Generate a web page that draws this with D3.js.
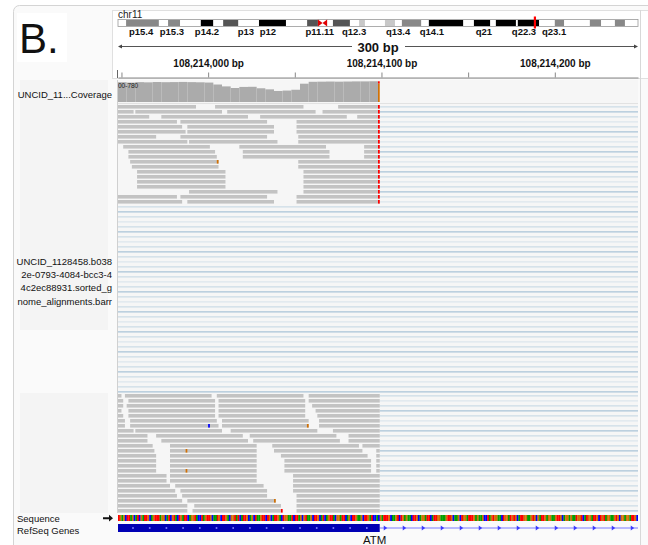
<!DOCTYPE html>
<html>
<head>
<meta charset="utf-8">
<script src="https://cdn.jsdelivr.net/npm/d3@7"></script>
<style>
  body { margin: 0; background: #fff; }
  svg { display: block; font-family: "Liberation Sans", Arial, sans-serif; }
</style>
</head>
<body>
<div id="chart"></div>
<script>
// locus chr11:108,213,948-108,214,248 (ATM)
const chromName = 'chr11';
const chromLength = 135.0; // Mb
const regionStart = 108213948;
const regionEnd = 108214248;
const viewMarkerMb = 108.21;

// ideogram bands [startMb, endMb, stain]
const bands = [
  [2.1, 10.6, 'gpos50'], [13.0, 16.1, 'gpos50'], [21.5, 24.7, 'gpos100'],
  [27.3, 31.2, 'gpos75'], [36.6, 43.6, 'gpos100'], [49.1, 51.9, 'gpos75'],
  [51.9, 54.3, 'acen'], [55.8, 60.2, 'gpos75'], [62.6, 64.1, 'gpos25'],
  [69.3, 71.9, 'gpos25'], [73.7, 78.7, 'gpos50'], [80.7, 89.6, 'gpos100'],
  [92.4, 96.6, 'gpos100'], [98.1, 103.3, 'gpos100'], [103.8, 109.3, 'gpos100'],
  [113.4, 115.8, 'gpos50'], [122.5, 125.4, 'gpos50'], [129.0, 131.6, 'gpos50']
];
const bandLabels = ['p15.4', 'p15.3', 'p14.2', 'p13', 'p12', 'p11.11', 'q12.3', 'q13.4', 'q14.1', 'q21', 'q22.3', 'q23.1'];
const bandLabelMb = [6.0, 14.0, 23.1, 33.2, 38.9, 52.4, 61.3, 72.7, 81.5, 95.0, 105.4, 113.2];

// coverage, 5 bp bins from regionStart
const coverageMax = 780;
const coverageBins = [735, 720, 738, 730, 742, 736, 740, 745, 738, 732, 722, 650, 580, 520, 560,
                      565, 510, 470, 410, 425, 455, 680, 750, 755, 760, 755, 760, 765, 765, 770];
const variantOffset = 150;
const variantCounts = [['T', 90], ['G', 680]];

// reads per row, [start, end] in bp offsets from regionStart
const topReads = [
  [[-20, 45], [56, 107], [127, 151]],
  [[-20, 9], [10, 60], [63, 114], [118, 151]],
  [[-20, 18], [25, 75], [82, 132], [138, 151]],
  [[-20, 34], [36, 86], [103, 151]],
  [[-20, 37], [40, 90], [103, 151]],
  [[-20, 39], [40, 90], [103, 151]],
  [[-20, 22], [36, 86], [104, 151]],
  [[-20, 40], [41, 92], [104, 151]],
  [[3, 53], [70, 120], [142, 151]],
  [[6, 56], [72, 122], [142, 151]],
  [[6, 57], [72, 122], [142, 151]],
  [[7, 58], [104, 151]],
  [[8, 58], [104, 151]],
  [[11, 62], [107, 151]],
  [[11, 62], [107, 151]],
  [[11, 62], [107, 151]],
  [[11, 62], [107, 151]],
  [[41, 92], [107, 151]],
  [[-20, 34], [36, 86], [103, 151]],
  [[-20, 37], [40, 90], [103, 151]]
];
const bottomReads = [
  [[-20, 2], [4, 54], [57, 107], [110, 151]],
  [[-20, 3], [6, 56], [58, 108], [110, 151]],
  [[-20, 3], [5, 56], [58, 108], [112, 151]],
  [[-20, 2], [6, 56], [58, 108], [114, 151]],
  [[-20, 3], [6, 56], [58, 108], [115, 151]],
  [[-20, 4], [7, 57], [60, 110], [116, 151]],
  [[-20, 4], [7, 58], [60, 110], [116, 151]],
  [[-20, 9], [10, 60], [65, 115], [124, 151]],
  [[-20, 17], [22, 72], [76, 126], [133, 151]],
  [[-20, 17], [25, 75], [78, 128], [133, 151]],
  [[-20, 20], [30, 80], [89, 139], [141, 151]],
  [[-20, 21], [30, 80], [90, 141], [149, 151]],
  [[-20, 22], [30, 80], [94, 144], [149, 151]],
  [[-20, 22], [30, 80], [96, 146], [149, 151]],
  [[-20, 22], [30, 80], [96, 146], [149, 151]],
  [[-20, 22], [30, 80], [96, 146], [149, 151]],
  [[-20, 28], [30, 80], [101, 151]],
  [[-20, 28], [30, 80], [101, 151]],
  [[-20, 30], [33, 84], [101, 151]],
  [[-20, 33], [36, 86], [101, 151]],
  [[-20, 34], [37, 86], [103, 151]],
  [[-20, 37], [40, 91], [103, 151]],
  [[-20, 40], [44, 94], [103, 151]],
  [[-20, 40], [43, 94], [103, 151]]
];
const middleRowCount = 38;
// mismatches [row, offset, base]
const topMismatches = [[11, 57, 'G']];
const bottomMismatches = [[6, 52, 'C'], [6, 109, 'G'], [11, 39, 'G'], [15, 39, 'G'], [21, 90, 'G'], [23, 94, 'T']];

// reference sequence (300 bp)
const sequence =
  'TGAGCTTAGCATCGATTGCAGTTTAGGCATCGTACTGATTCAGGTACCTA' +
  'GTTGCAATGCTTGACGGTATCATTGCAGCTAAGTTCTGCATTGACTGGAA' +
  'TCTTAGCGTAAGCTTGCATCAGTTACGGATTCAGCTTGAAGCTTGATCCA' +
  'CGATTTGCAAGTCTGAGAACTTGCAGGATTCATTGGAAAGTTGCAAGCTG' +
  'GATTTGAGAAGCCTAGTGGAACTGGATGTGCATTGGAAGTGCGATTGAGG' +
  'AAGTTGCAGGAGAATGGTCATGGATTGCTGTAGGAAGTGCGGAGGATTGC';

// RefSeq gene
const geneName = 'ATM';
const exonStart = -200;
const exonEnd = 151;
const txEnd = 600;

const baseColor = { A: '#00a000', C: '#0000ff', G: '#d17105', T: '#ff0000' };
const stainColor = { gpos25: '#c8c8c8', gpos50: '#888', gpos75: '#555', gpos100: '#000' };

const W = 648, H = 545;
const x0 = 118, x1 = 638;

const svg = d3.select('#chart').append('svg')
  .attr('width', W).attr('height', H);

svg.append('rect').attr('x', 13.5).attr('y', 5.5).attr('width', 700).attr('height', 600)
  .attr('rx', 6).attr('fill', '#fafafa').attr('stroke', '#d4d4d4');

// "B." panel label
svg.append('rect').attr('x', 17).attr('y', 13).attr('width', 50).attr('height', 49).attr('fill', '#fff');
svg.append('text').attr('x', 19).attr('y', 53).attr('font-size', 42).attr('fill', '#111').text('B.');

// header panel
svg.append('rect').attr('x', 112.5).attr('y', 10.5).attr('width', 560).attr('height', 68)
  .attr('fill', '#fff').attr('stroke', '#e0e0e0');

// ideogram
const xc = d3.scaleLinear().domain([0, chromLength]).range([x0, x1]);
svg.append('text').attr('x', x0).attr('y', 18).attr('font-size', 10).attr('fill', '#222').text(chromName);
const ideoY = 19.5, ideoH = 7;
svg.append('rect').attr('x', x0).attr('y', ideoY).attr('width', x1 - x0).attr('height', ideoH)
  .attr('fill', '#fff').attr('stroke', '#999').attr('stroke-width', 0.8);
svg.append('g').selectAll('rect')
  .data(bands.filter(b => b[2] !== 'acen'))
  .join('rect')
  .attr('x', d => xc(d[0])).attr('y', ideoY + 0.5)
  .attr('width', d => xc(d[1]) - xc(d[0])).attr('height', ideoH - 1)
  .attr('fill', d => stainColor[d[2]]);
bands.filter(b => b[2] === 'acen').forEach(b => {
  const a = xc(b[0]), c = xc(b[1]), m = (a + c) / 2;
  svg.append('path')
    .attr('d', `M${a},${ideoY}L${m},${ideoY + ideoH / 2}L${a},${ideoY + ideoH}Z M${c},${ideoY}L${m},${ideoY + ideoH / 2}L${c},${ideoY + ideoH}Z`)
    .attr('fill', '#e00000');
});
svg.append('rect').attr('x', xc(viewMarkerMb) - 1).attr('y', 16.5).attr('width', 2.2).attr('height', 12)
  .attr('fill', '#ff0000');
svg.append('g').selectAll('text')
  .data(bandLabels)
  .join('text')
  .attr('x', (d, i) => xc(bandLabelMb[i])).attr('y', 35)
  .attr('text-anchor', 'middle').attr('font-size', 9.5).attr('font-weight', 'bold').attr('fill', '#111')
  .text(d => d);

// ruler
const xg = d3.scaleLinear().domain([regionStart, regionEnd]).range([x0, x1]);
const spanLabel = d3.format(',')(regionEnd - regionStart) + ' bp';
const gr = svg.append('g');
gr.append('line').attr('x1', x0 + 2).attr('x2', 352).attr('y1', 46.5).attr('y2', 46.5).attr('stroke', '#555');
gr.append('line').attr('x1', 405).attr('x2', x1 - 2).attr('y1', 46.5).attr('y2', 46.5).attr('stroke', '#555');
gr.append('path').attr('d', `M${x0},46.5l4,-2v4z M${x1},46.5l-4,-2v4z`).attr('fill', '#444');
gr.append('text').attr('x', (x0 + x1) / 2).attr('y', 51.5).attr('text-anchor', 'middle')
  .attr('font-size', 13).attr('font-weight', 'bold').attr('fill', '#111').text(spanLabel);

const tickVals = d3.range(Math.ceil(regionStart / 50) * 50, regionEnd, 50);
const axis = d3.axisTop(xg)
  .tickValues(tickVals)
  .tickSize(5).tickSizeOuter(0)
  .tickFormat(d => d % 100 === 0 ? d3.format(',')(d) + ' bp' : '');
const ga = svg.append('g').attr('transform', 'translate(0,77.5)').call(axis);
ga.select('.domain').attr('stroke', '#888');
ga.selectAll('.tick line').attr('stroke', '#888');
ga.selectAll('.tick text').attr('font-size', 10).attr('font-weight', 'bold').attr('fill', '#111')
  .attr('font-family', '"Liberation Sans", Arial, sans-serif').attr('y', -11);
svg.append('line').attr('x1', x0 - 0.5).attr('x2', x0 - 0.5).attr('y1', 70).attr('y2', 78).attr('stroke', '#666');

// name panels
svg.append('rect').attr('x', 20).attr('y', 80).attr('width', 88).attr('height', 250).attr('fill', '#f4f4f4');
svg.append('rect').attr('x', 20).attr('y', 393).attr('width', 88).attr('height', 120).attr('fill', '#f4f4f4');

// data panel
svg.append('rect').attr('x', x0).attr('y', 80).attr('width', x1 - x0).attr('height', 433).attr('fill', '#f6f6f6');
svg.append('defs').append('clipPath').attr('id', 'clip')
  .append('rect').attr('x', x0).attr('y', 0).attr('width', x1 - x0).attr('height', H);
const data = svg.append('g').attr('clip-path', 'url(#clip)');
const x = d3.scaleLinear().domain([0, regionEnd - regionStart]).range([x0, x1]);

// coverage
const yc = d3.scaleLinear().domain([0, coverageMax]).range([102, 81]);
data.append('g').selectAll('rect')
  .data(coverageBins)
  .join('rect')
  .attr('x', (d, i) => x(i * 5))
  .attr('width', (d, i) => x(Math.min(i * 5 + 5, variantOffset)) - x(i * 5))
  .attr('y', d => yc(d))
  .attr('height', d => yc(0) - yc(d))
  .attr('fill', '#ababab');
let acc = 0;
const stack = variantCounts.map(([b, n]) => { const s = { b, y0: acc, y1: acc + n }; acc += n; return s; });
data.append('g').selectAll('rect')
  .data(stack)
  .join('rect')
  .attr('x', x(variantOffset)).attr('width', x(variantOffset + 1) - x(variantOffset))
  .attr('y', d => yc(acc - d.y0)).attr('height', d => yc(0) - yc(d.y1 - d.y0))
  .attr('fill', d => baseColor[d.b]);
svg.append('text').attr('x', x0).attr('y', 87.5).attr('font-size', 6.5).attr('fill', '#222').text('00-780');
svg.append('line').attr('x1', x0).attr('x2', x1).attr('y1', 103.5).attr('y2', 103.5).attr('stroke', '#e2e2e2');

// alignment rows: spliced-gap lines, reads, mismatches
const rowH = 5, readH = 3.6;
const blocks = [
  { reads: topReads, top: 105, mism: topMismatches, variant: true, offset: 0 },
  { reads: d3.range(middleRowCount).map(() => []), top: 205, mism: [], variant: false, offset: 20 },
  { reads: bottomReads, top: 394, mism: bottomMismatches, variant: false, offset: 58 }
];
const lineColor = i => i % 4 === 1 ? '#a9c3d7' : (i % 2 === 0 ? '#cbdbe6' : '#dce6ed');
blocks.forEach(bk => {
  const g = data.append('g');
  const yRow = i => bk.top + i * rowH;
  g.selectAll('line')
    .data(bk.reads)
    .join('line')
    .attr('x1', d => d.length ? x(d3.max(d, r => r[1])) : x0)
    .attr('x2', x1)
    .attr('y1', (d, i) => yRow(i) + readH / 2).attr('y2', (d, i) => yRow(i) + readH / 2)
    .attr('stroke', (d, i) => lineColor(i + bk.offset)).attr('stroke-width', 1.3);
  bk.reads.forEach((row, i) => {
    g.append('g').selectAll('rect')
      .data(row)
      .join('rect')
      .attr('x', r => x(r[0])).attr('width', r => x(r[1]) - x(r[0]))
      .attr('y', yRow(i)).attr('height', readH)
      .attr('fill', '#c3c3c3');
    if (bk.variant) {
      row.filter(r => r[0] <= variantOffset && r[1] > variantOffset).forEach(() => {
        g.append('rect').attr('x', x(variantOffset)).attr('width', x(variantOffset + 1) - x(variantOffset))
          .attr('y', yRow(i)).attr('height', readH).attr('fill', baseColor.T);
      });
    }
  });
  g.append('g').selectAll('rect')
    .data(bk.mism)
    .join('rect')
    .attr('x', d => x(d[1])).attr('width', d => x(d[1] + 1) - x(d[1]))
    .attr('y', d => yRow(d[0])).attr('height', readH)
    .attr('fill', d => baseColor[d[2]]);
});
svg.append('line').attr('x1', x0 - 0.5).attr('x2', x0 - 0.5).attr('y1', 80).attr('y2', 513).attr('stroke', '#d0d0d0');

// sequence track
data.append('g').selectAll('rect')
  .data(sequence.split(''))
  .join('rect')
  .attr('x', (d, i) => x(i)).attr('width', (d, i) => x(i + 1) - x(i) + 0.2)
  .attr('y', 515).attr('height', 6)
  .attr('fill', d => baseColor[d]);

// gene track
const gy = 528;
data.append('line').attr('x1', x(exonEnd)).attr('x2', x(txEnd)).attr('y1', gy).attr('y2', gy)
  .attr('stroke', '#7a7aff').attr('stroke-width', 1);
data.append('g').selectAll('path')
  .data(d3.range(x(exonEnd) + 6, x1, 19))
  .join('path')
  .attr('d', px => `M${px - 2},${gy - 2.5}L${px + 1.5},${gy}L${px - 2},${gy + 2.5}Z`)
  .attr('fill', '#3b3bff');
data.append('rect').attr('x', x(exonStart)).attr('width', x(exonEnd) - x(exonStart))
  .attr('y', gy - 4).attr('height', 8).attr('fill', '#0000b4');
data.append('g').selectAll('rect')
  .data(d3.range(133, x(exonEnd) - 4, 16.7))
  .join('rect')
  .attr('x', px => px - 0.8).attr('y', gy - 0.8).attr('width', 1.6).attr('height', 1.6)
  .attr('fill', '#8a8aff');
svg.append('text').attr('x', x(exonEnd) - 5).attr('y', 544).attr('text-anchor', 'middle')
  .attr('font-size', 11.5).attr('fill', '#111').text(geneName);

// right border
svg.append('line').attr('x1', 640.5).attr('x2', 640.5).attr('y1', 10).attr('y2', H).attr('stroke', '#d8d8d8');

// track names
const names = svg.append('g').attr('font-size', 9.5).attr('fill', '#111');
names.append('text').attr('x', 112).attr('y', 98).attr('text-anchor', 'end').text('UNCID_11...Coverage');
const bamName = ['UNCID_1128458.b038', '2e-0793-4084-bcc3-4', '4c2ec88931.sorted_g', 'nome_alignments.barr'];
names.selectAll('.bam')
  .data(bamName)
  .join('text')
  .attr('x', 112).attr('y', (d, i) => 265 + i * 13.2).attr('text-anchor', 'end')
  .text(d => d);
names.append('text').attr('x', 17).attr('y', 522).text('Sequence');
names.append('text').attr('x', 17).attr('y', 534).text('RefSeq Genes');
svg.append('path').attr('d', 'M103,517.2h6v-2.4l4,3.4l-4,3.4v-2.4h-6z').attr('fill', '#111');
</script>
</body>
</html>
